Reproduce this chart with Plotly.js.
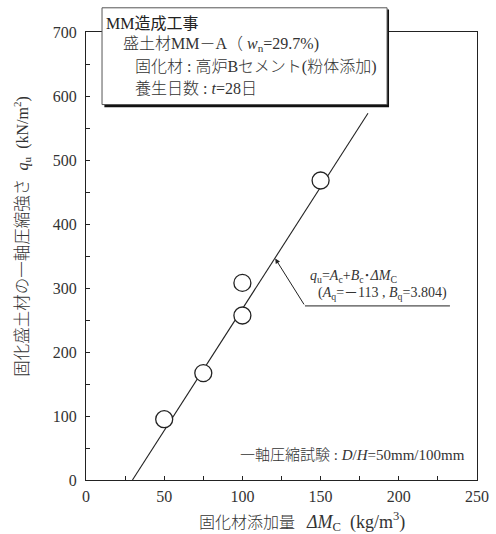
<!DOCTYPE html>
<html>
<head>
<meta charset="utf-8">
<script src="https://cdn.plot.ly/plotly-3.0.1.min.js"></script>
<style>html,body{margin:0;padding:0;background:#fff;}#chart{width:496px;height:534px;}</style>
</head>
<body>
<div id="chart"></div>
<script>
// Measured data: binder content (kg/m3) vs unconfined compressive strength (kN/m2)
const dMc = [50, 75, 100, 100, 150];
const qu = [95, 167, 257, 308, 468];
// Regression line end points
const fitX = [29.7, 180.3];
const fitY = [0, 573];
const xTicks = [0, 50, 100, 150, 200, 250];
const yTicks = [0, 100, 200, 300, 400, 500, 600, 700];

const FONT = "'Liberation Serif', 'Times New Roman', 'Noto Sans CJK JP', serif";
const TXT = '#333';
const W = 300;

const traces = [
  {x: fitX, y: fitY, mode: 'lines', line: {color: '#222', width: 1.1}, hoverinfo: 'skip', showlegend: false},
  {x: dMc, y: qu, mode: 'markers', showlegend: false,
   marker: {symbol: 'circle', size: 17, color: '#fff', line: {color: '#222', width: 1.3}}}
];

const axisCommon = {
  showline: true, mirror: true, linecolor: '#222', linewidth: 1,
  ticks: 'inside', ticklen: 4, tickcolor: '#222', tickwidth: 1,
  showgrid: false, zeroline: false,
  tickfont: {family: FONT, size: 16, color: TXT}
};

const layout = {
  width: 496, height: 534,
  margin: {l: 86, r: 19, t: 32, b: 54},
  paper_bgcolor: '#fff', plot_bgcolor: '#fff',
  font: {family: FONT, color: TXT},
  xaxis: Object.assign({}, axisCommon, {
    range: [0, 250], tickvals: xTicks, ticktext: xTicks.map(String),
    minor: {dtick: 25, ticks: 'inside', ticklen: 4, tickcolor: '#222'},
    ticklabelstandoff: 2
  }),
  yaxis: Object.assign({}, axisCommon, {
    range: [0, 700], tickvals: yTicks, ticktext: yTicks.map(String),
    minor: {dtick: 50, ticks: 'inside', ticklen: 4, tickcolor: '#222'},
    ticklabelstandoff: 5
  }),
  shapes: [
    // shadow of the info box
    {type: 'rect', xref: 'paper', yref: 'paper', x0: 0.047, x1: 0.775, y0: 0.832, y1: 1.050,
     line: {width: 0}, fillcolor: '#111', layer: 'above'},
    // info box
    {type: 'rect', xref: 'paper', yref: 'paper', x0: 0.041, x1: 0.770, y0: 0.838, y1: 1.054,
     line: {color: '#555', width: 1}, fillcolor: '#fff', layer: 'above'},
    // leader line of the regression label
    {type: 'line', xref: 'x', yref: 'y', x0: 140.0, x1: 232.7, y0: 272, y1: 272,
     line: {color: '#222', width: 1}}
  ],
  annotations: [
    // axis titles
    {xref: 'paper', yref: 'paper', x: 0.552, y: -0.092, xanchor: 'center', yanchor: 'middle', showarrow: false,
     text: '固化材添加量&nbsp;&nbsp;&nbsp;<span style="font-size:18px"><i>ΔM</i><sub>C</sub>&nbsp;&nbsp;(kg/m<sup>3</sup>)</span>',
     font: {family: FONT, size: 16, color: TXT, weight: W}},
    {xref: 'paper', yref: 'paper', x: -0.164, y: 0.545, xanchor: 'center', yanchor: 'middle', showarrow: false, textangle: -90,
     text: '固化盛土材の一軸圧縮強さ&nbsp;&nbsp;<span style="font-size:16px"><i>q</i><sub>u</sub>&nbsp;&nbsp;(kN/m<sup>2</sup>)</span>',
     font: {family: FONT, size: 16.5, color: TXT, weight: W}},
    // info box lines
    {xref: 'paper', yref: 'paper', x: 0.046, y: 1.020, xanchor: 'left', yanchor: 'middle', showarrow: false,
     text: 'MM造成工事', font: {family: FONT, size: 16, color: '#222'}},
    {xref: 'paper', yref: 'paper', x: 0.089, y: 0.973, xanchor: 'left', yanchor: 'middle', showarrow: false,
     text: '盛土材MM－A（ <i>w</i><sub>n</sub>=29.7%)', font: {family: FONT, size: 16, color: TXT, weight: W}},
    {xref: 'paper', yref: 'paper', x: 0.120, y: 0.922, xanchor: 'left', yanchor: 'middle', showarrow: false,
     text: '固化材 : 高炉Bセメント(粉体添加)', font: {family: FONT, size: 16, color: TXT, weight: W}},
    {xref: 'paper', yref: 'paper', x: 0.120, y: 0.875, xanchor: 'left', yanchor: 'middle', showarrow: false,
     text: '養生日数 : <i>t</i>=28日', font: {family: FONT, size: 16, color: TXT, weight: W}},
    // arrow to regression line
    {xref: 'x', yref: 'y', axref: 'x', ayref: 'y', x: 121, y: 346, ax: 140.0, ay: 272, text: '',
     showarrow: true, arrowhead: 2, arrowsize: 1, arrowwidth: 1, arrowcolor: '#222'},
    {xref: 'x', yref: 'y', x: 142, y: 318, xanchor: 'left', yanchor: 'middle', showarrow: false,
     text: '<i>q</i><sub>u</sub>=<i>A</i><sub>c</sub>+<i>B</i><sub>c</sub>･<i>ΔM</i><sub>C</sub>', font: {family: FONT, size: 14, color: TXT}},
    {xref: 'x', yref: 'y', x: 147, y: 292, xanchor: 'left', yanchor: 'middle', showarrow: false,
     text: '(<i>A</i><sub>q</sub>=－113 , <i>B</i><sub>q</sub>=3.804)', font: {family: FONT, size: 14, color: TXT}},
    {xref: 'paper', yref: 'paper', x: 0.975, y: 0.055, xanchor: 'right', yanchor: 'middle', showarrow: false,
     text: '一軸圧縮試験 : <i>D</i>/<i>H</i>=50mm/100mm', font: {family: FONT, size: 15, color: TXT, weight: W}}
  ]
};

Plotly.newPlot('chart', traces, layout, {displayModeBar: false, staticPlot: true});
</script>
</body>
</html>
